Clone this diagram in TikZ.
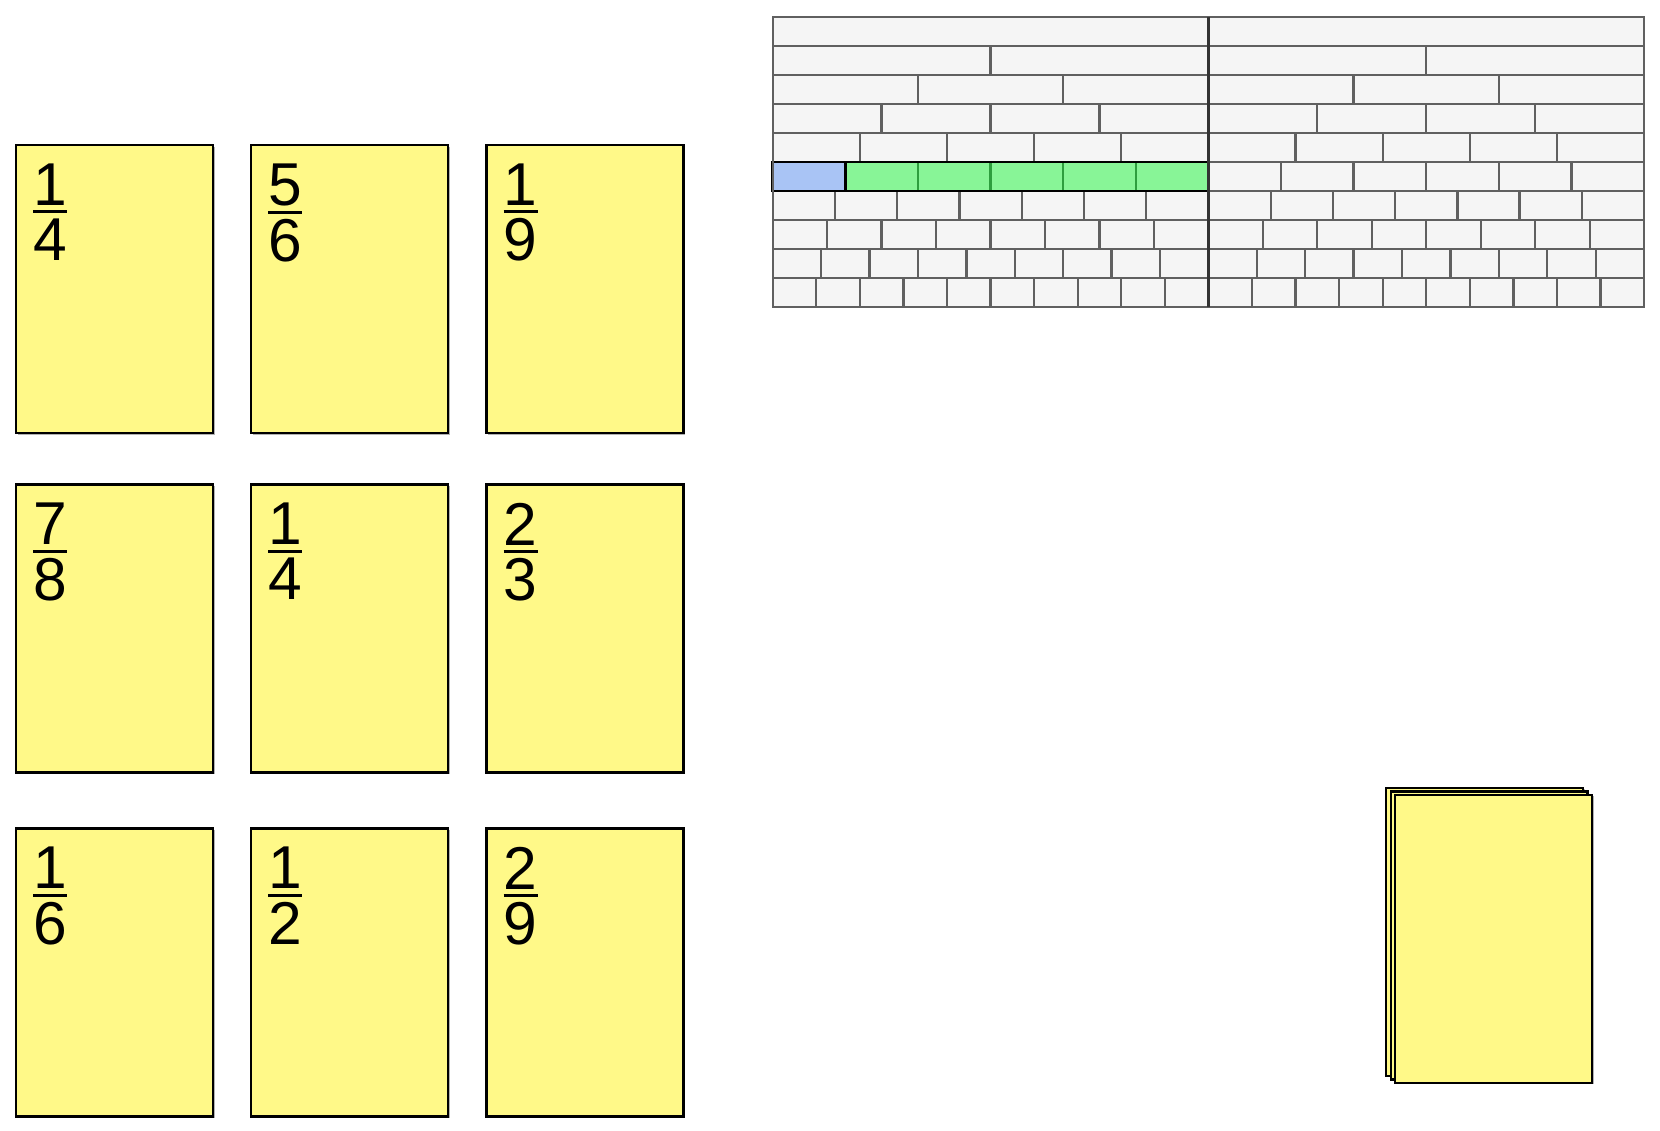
\documentclass[tikz,border=0pt]{standalone}
\usepackage{fontspec}
\setmainfont{Liberation Sans}
\usetikzlibrary{positioning,shadows}
\definecolor{cardyellow}{HTML}{FFF988}
\definecolor{wallfill}{HTML}{F5F5F5}
\definecolor{wallline}{HTML}{606060}
\definecolor{unitblue}{HTML}{A9C4F5}
\definecolor{partgreen}{HTML}{88F597}
\definecolor{partline}{HTML}{2E9E3E}
\newcommand\cardfrac[2]{\vbox{\offinterlineskip\halign{\hfil##\hfil\cr#1\cr\noalign{\kern5.1pt}\rule{34pt}{3.2pt}\cr\noalign{\kern5.2pt}#2\cr}}}
\begin{document}
\begin{tikzpicture}[x=1pt,y=-1pt,
    card/.style={draw=black,fill=cardyellow,line width=2.4pt,minimum width=196.8pt,minimum height=288pt,inner sep=0pt,anchor=north west,
      drop shadow={shadow xshift=1.5pt,shadow yshift=-1.5pt,opacity=0.3,fill=black}},
    fraclabel/.style={inner sep=0pt,font=\fontsize{60.5}{60}\selectfont},
    wallcell/.style={draw=wallline,fill=wallfill,line width=2.3pt},
    greencell/.style={draw=partline,fill=partgreen,line width=2.3pt},
    bluecell/.style={draw=black,fill=unitblue,line width=2.6pt}]
        \useasboundingbox (0,0) rectangle (1660,1130);
        % fraction cards
        \node[card] (c11) at (15,144) {};
        \node[card] (c12) at (250,144) {};
        \node[card] (c13) at (485.3,144) {};
        \node[card] (c21) at (15,483.3) {};
        \node[card] (c22) at (250,483.3) {};
        \node[card] (c23) at (485.3,483.3) {};
        \node[card] (c31) at (15,827.3) {};
        \node[card] (c32) at (250,827.3) {};
        \node[card] (c33) at (485.3,827.3) {};
        \node[fraclabel,below right=19.3pt and 18pt of c11.north west] (f11) {\cardfrac{1}{4}};
        \node[fraclabel,below right=19.3pt and 18pt of c12.north west] (f12) {\cardfrac{5}{6}};
        \node[fraclabel,below right=19.3pt and 18pt of c13.north west] (f13) {\cardfrac{1}{9}};
        \node[fraclabel,below right=19.3pt and 18pt of c21.north west] (f21) {\cardfrac{7}{8}};
        \node[fraclabel,below right=19.3pt and 18pt of c22.north west] (f22) {\cardfrac{1}{4}};
        \node[fraclabel,below right=19.3pt and 18pt of c23.north west] (f23) {\cardfrac{2}{3}};
        \node[fraclabel,below right=19.3pt and 18pt of c31.north west] (f31) {\cardfrac{1}{6}};
        \node[fraclabel,below right=19.3pt and 18pt of c32.north west] (f32) {\cardfrac{1}{2}};
        \node[fraclabel,below right=19.3pt and 18pt of c33.north west] (f33) {\cardfrac{2}{9}};
        % pile of cards
        \node[card] (pile1) at (1385,786.7) {};
        \node[card] (pile2) at (1389.5,790.1) {};
        \node[card] (pile3) at (1394,793.5) {};
        % fraction wall
        \def\wx{772.7} \def\wy{17.3} \def\ww{435.7} \def\wh{28.94}
        \foreach \h in {0,1}
          \foreach \k in {1,...,10}
            \foreach \j in {1,...,\k}
              \draw[wallcell] ({\wx+\h*\ww+(\j-1)*\ww/\k},{\wy+(\k-1)*\wh}) rectangle ++({\ww/\k},\wh);
        \foreach \j in {2,...,6}
          \draw[greencell] ({\wx+(\j-1)*\ww/6},{\wy+5*\wh}) rectangle ++({\ww/6},\wh);
        \draw[bluecell] (\wx,{\wy+5*\wh}) rectangle ++({\ww/6},\wh);
        \draw[black,line width=2.6pt] (\wx,{\wy+5*\wh}) rectangle ++(\ww,\wh);
        \draw[wallline,line width=2.3pt] (\wx,\wy) rectangle ++({2*\ww},{10*\wh});
        \draw[black!80,line width=2.4pt] ({\wx+\ww},\wy) -- ++(0,{10*\wh});
    \end{tikzpicture}
\end{document}
